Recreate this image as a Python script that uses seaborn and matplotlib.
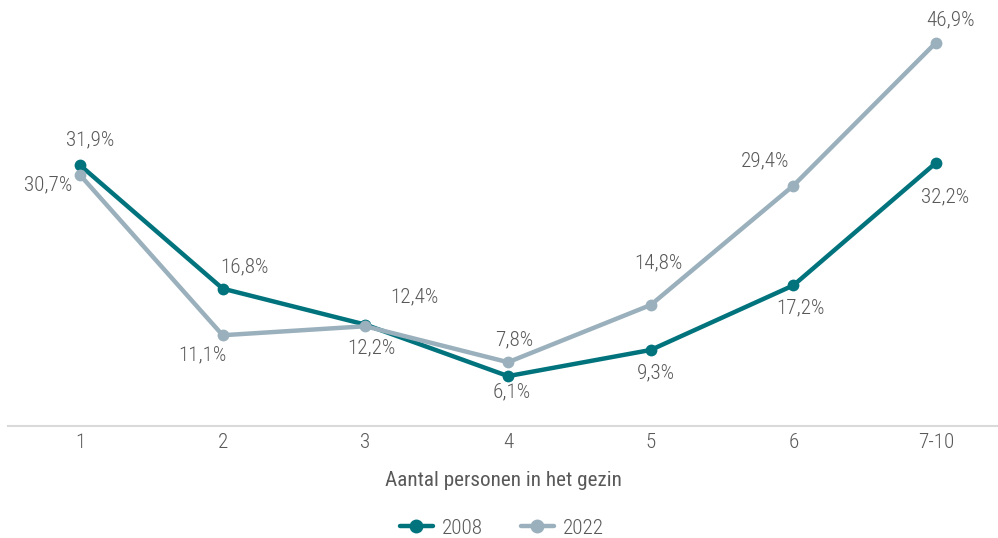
import matplotlib
matplotlib.use("Agg")
import matplotlib.pyplot as plt
import seaborn as sns
import pandas as pd

categories = ["1", "2", "3", "4", "5", "6", "7-10"]
values_2008 = [31.9, 16.8, 12.4, 6.1, 9.3, 17.2, 32.2]
values_2022 = [30.7, 11.1, 12.2, 7.8, 14.8, 29.4, 46.9]
series_names = ["2008", "2022"]
xlabel = "Aantal personen in het gezin"

# label offsets in pixels (dx, dy) relative to points
offs_2008 = [(10, 25), (22, 22), (49, 28), (4, -16), (5, -23), (7, -23), (9, -34)]
offs_2022 = [(-32, -10), (-20, -20), (6, -22), (6, 22), (8, 42), (-28, 25), (14, 23)]

sns.set_theme(style="white")
plt.rcParams["font.family"] = ["Roboto Condensed", "DejaVu Sans"]
plt.rcParams["font.weight"] = "light"

colors = {"2008": "#01737D", "2022": "#9AB0BC"}
text_color = "#595959"
fs = 15.2

df = pd.DataFrame({
    "cat": categories * 2,
    "x": list(range(len(categories))) * 2,
    "val": values_2008 + values_2022,
    "series": [series_names[0]] * len(categories) + [series_names[1]] * len(categories),
})

fig = plt.figure(figsize=(9.98, 5.38), dpi=100)
ax = fig.add_axes([8 / 998, (538 - 426) / 538, 990 / 998, 426 / 538])

sns.lineplot(data=df, x="x", y="val", hue="series", palette=colors, ax=ax,
             marker="o", markersize=8.5, linewidth=3.2, markeredgewidth=0,
             legend=True)

ax.set_xlim(-0.5047, 6.434)
ax.set_ylim(0, 52.1)
ax.set_xticks(range(len(categories)))
ax.set_xticklabels(categories, fontsize=fs, color=text_color)
ax.set_yticks([])
ax.tick_params(axis="x", length=0, pad=5)
for s in ["top", "right", "left"]:
    ax.spines[s].set_visible(False)
ax.spines["bottom"].set_color("#d9d9d9")
ax.spines["bottom"].set_linewidth(1.5)
ax.set_xlabel(xlabel, fontsize=fs, color=text_color, labelpad=14)
ax.set_ylabel("")

def fmt(v):
    return f"{v:.1f}".replace(".", ",") + "%"

for vals, offs in [(values_2008, offs_2008), (values_2022, offs_2022)]:
    for i, (v, (dx, dy)) in enumerate(zip(vals, offs)):
        ax.annotate(fmt(v), (i, v), xytext=(dx, dy), textcoords="offset pixels",
                    ha="center", va="center", fontsize=fs, color=text_color)

handles, labels = ax.get_legend_handles_labels()
for h in handles:
    h.set_markersize(10)
ax.legend(handles, labels, loc="center", ncol=2,
          frameon=False, fontsize=fs, labelcolor=text_color, handlelength=1.55,
          columnspacing=1.8, handletextpad=0.45, borderaxespad=0,
          bbox_to_anchor=(494 / 990, (426 - 528) / 426), bbox_transform=ax.transAxes)

fig.savefig("out.png", dpi=100)
